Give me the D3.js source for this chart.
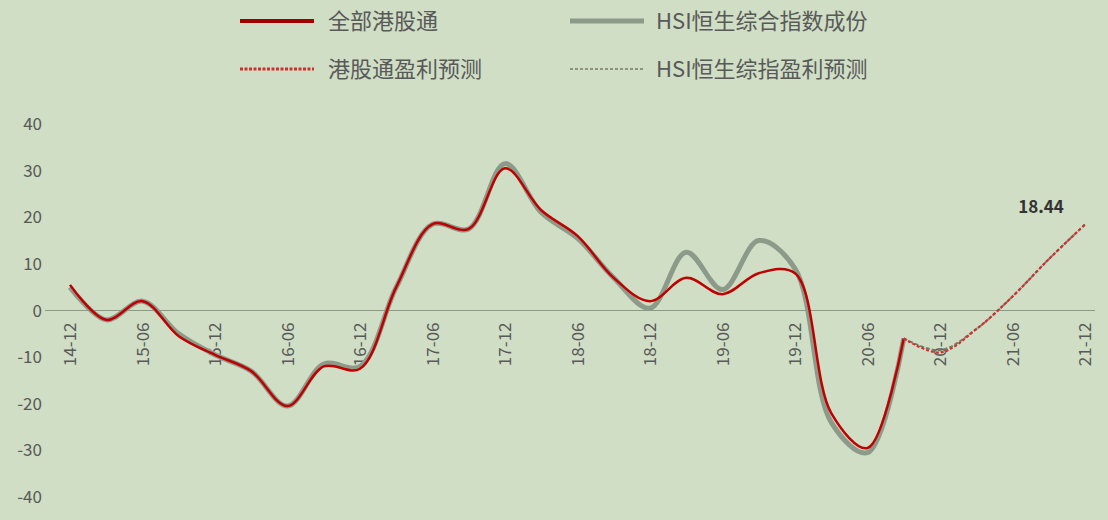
<!DOCTYPE html>
<html><head><meta charset="utf-8">
<script src="https://cdn.jsdelivr.net/npm/d3@7"></script>
<style>body{margin:0;background:#cfdec4;}svg{display:block;font-family:"Noto Sans CJK SC","Open Sans",sans-serif;}</style>
</head><body>
<svg id="c" width="1108" height="520"></svg>
<script>
const quarters = ["14-12","15-03","15-06","15-09","15-12","16-03","16-06","16-09","16-12","17-03","17-06","17-09","17-12","18-03","18-06","18-09","18-12","19-03","19-06","19-09","19-12","20-03","20-06","20-09","20-12","21-03","21-06","21-09","21-12"];
const tickLabels = ["14-12","15-06","15-12","16-06","16-12","17-06","17-12","18-06","18-12","19-06","19-12","20-06","20-12","21-06","21-12"];
const yTicks = [40,30,20,10,0,-10,-20,-30,-40];
const allHK = [5.5,-2,2,-5.5,-9.5,-13,-20.5,-12,-12.5,5,18.5,17.5,30.5,21.5,16,7,2,7,3.5,8,8,-22,-29.5,-6];
const hsi = [5,-2,2,-5,-9.5,-13,-20.5,-11.5,-12,5,18.5,17.5,31.5,21,15.5,7,0.5,12.5,4.5,15,9,-24,-30.5,-6];
const hkForecast = [-6,-9,-4,3,11,18.44];
const hsiForecast = [-6,-8.5,-4,3,11,18.44];
const legendNames = ["全部港股通","HSI恒生综合指数成份","港股通盈利预测","HSI恒生综指盈利预测"];

const svg = d3.select("#c");
const x = d3.scalePoint().domain(quarters).range([70,1085]);
const y = d3.scaleLinear().domain([-40,40]).range([497,124]);

svg.append("line").attr("x1",45).attr("x2",1095).attr("y1",y(0)).attr("y2",y(0)).attr("stroke","#8a9a86").attr("stroke-width",1);
svg.selectAll(".yt").data(yTicks).join("text").attr("x",42).attr("y",d=>y(d)+6).attr("text-anchor","end")
  .attr("font-size",17).attr("fill","#595959").text(d=>d);
svg.selectAll(".xt").data(tickLabels).join("text")
  .attr("transform",d=>`translate(${x(d)+6},${y(0)+12}) rotate(-90)`).attr("text-anchor","end")
  .attr("font-size",17).attr("fill","#595959").text(d=>d);

const line = d3.line().x(d=>x(d.q)).y(d=>y(d.v)).curve(d3.curveCatmullRom.alpha(0.5));
const mk = (arr,off)=>arr.map((v,i)=>({q:quarters[i+off],v}));
svg.append("path").datum(mk(hsi,0)).attr("d",line).attr("fill","none").attr("stroke","#8c9a8a").attr("stroke-width",5);
svg.append("path").datum(mk(allHK,0)).attr("d",line).attr("fill","none").attr("stroke","#c00000").attr("stroke-width",2.5);
svg.append("path").datum(mk(hsiForecast,23)).attr("d",line).attr("fill","none").attr("stroke","#7a7a6a").attr("stroke-width",2).attr("stroke-dasharray","4,2");
svg.append("path").datum(mk(hkForecast,23)).attr("d",line).attr("fill","none").attr("stroke","#d03030").attr("stroke-width",2.2).attr("stroke-dasharray","3,2");

svg.append("text").attr("x",x("21-12")-44).attr("y",y(18.44)-12).attr("text-anchor","middle")
  .attr("font-size",17).attr("font-weight","bold").attr("fill","#333").text(hkForecast[hkForecast.length-1]);

const leg = [
  {x:240,y:21,c:"#a00000",w:4,d:null},
  {x:570,y:21,c:"#8c9a8a",w:5,d:null},
  {x:240,y:69,c:"#d03030",w:3,d:"3,1.5"},
  {x:570,y:69,c:"#7a7a6a",w:1.5,d:"3,2"}];
leg.forEach((l,i)=>{
  svg.append("line").attr("x1",l.x).attr("x2",l.x+74).attr("y1",l.y).attr("y2",l.y).attr("stroke",l.c).attr("stroke-width",l.w).attr("stroke-dasharray",l.d);
  svg.append("text").attr("x",l.x+(i%2?86:88)).attr("y",l.y+8).attr("font-size",22).attr("fill","#595959").text(legendNames[i]);
});
</script></body></html>
